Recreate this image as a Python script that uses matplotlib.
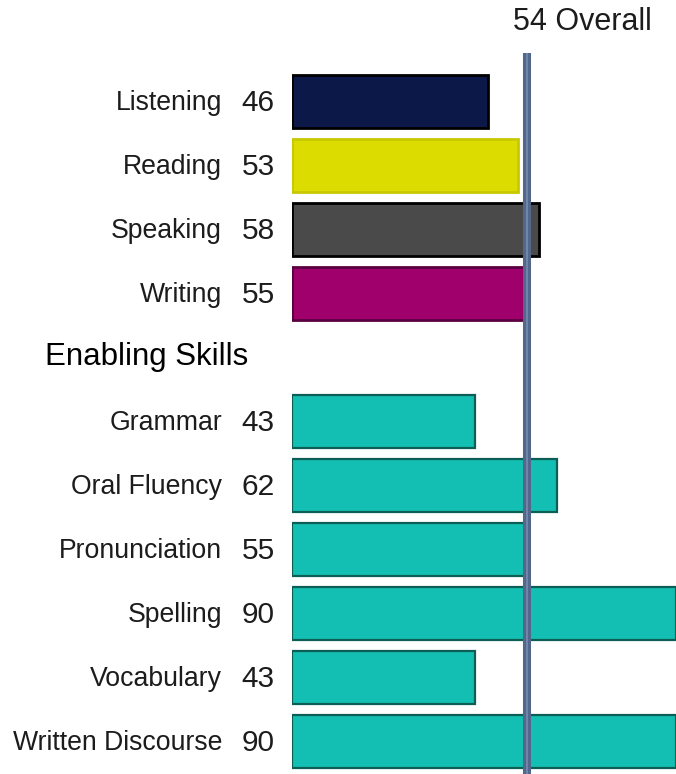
import matplotlib
matplotlib.use("Agg")
import matplotlib.pyplot as plt
from matplotlib.transforms import blended_transform_factory, ScaledTranslation

plt.rcParams['font.family'] = ['Liberation Sans', 'DejaVu Sans']

communicative = ["Listening", "Reading", "Speaking", "Writing"]
communicative_scores = [46, 53, 58, 55]
communicative_colors = ["#0b1848", "#dcdc00", "#4b4a4a", "#a0006c"]
communicative_edges = ["#000000", "#c8c800", "#000000", "#5a0040"]

enabling_title = "Enabling Skills"
enabling = ["Grammar", "Oral Fluency", "Pronunciation", "Spelling", "Vocabulary", "Written Discourse"]
enabling_scores = [43, 62, 55, 90, 43, 90]
enabling_color = "#13bfb3"
enabling_edge = "#0d5e55"

overall = 54
overall_label = "54 Overall"

W, H = 676, 774
fig = plt.figure(figsize=(W / 100, H / 100), dpi=100)
ax = fig.add_axes([292 / W, 0, 1 - 292 / W, 1])
ax.set_xlim(0, 90)
top_i = (0 - 101) / 64
bot_i = (774 - 101) / 64
ax.set_ylim(bot_i, top_i)
ax.axis("off")

bar_h = 53 / 64
txt = "#1c1c1c"
trans = blended_transform_factory(fig.transFigure, ax.transData)

pos_comm = list(range(len(communicative)))
pos_enab = [len(communicative) + 1 + k for k in range(len(enabling))]

ax.barh(pos_comm, communicative_scores, height=bar_h, color=communicative_colors,
        edgecolor=communicative_edges, linewidth=2.0, zorder=2)
ax.barh(pos_enab, enabling_scores, height=bar_h, color=enabling_color,
        edgecolor=enabling_edge, linewidth=1.6, zorder=2)

for p, name, s in zip(pos_comm + pos_enab, communicative + enabling,
                      communicative_scores + enabling_scores):
    ax.text(222 / W, p + 0.03, name, transform=trans, ha="right", va="center",
            fontsize=19.2, color=txt)
    ax.text(275 / W, p + 0.03, str(s), transform=trans, ha="right", va="center",
            fontsize=21.5, color=txt)

ax.text(45 / W, len(communicative), enabling_title, transform=trans, ha="left",
        va="center", fontsize=22.5, color="#000000")

shift = ax.transData + ScaledTranslation(5 / 100, 0, fig.dpi_scale_trans)
ax.vlines(overall, -0.75, bot_i, colors="#53678c", linewidth=5.8, zorder=3, transform=shift)
ax.vlines(overall, -0.75, bot_i, colors="#8fa3c4", linewidth=1.2, zorder=3, alpha=0.6,
          transform=shift)
ax.annotate(overall_label, xy=(overall, top_i), xycoords="data",
            xytext=(-7, -16), textcoords="offset points", ha="left", va="center",
            fontsize=22, color=txt, annotation_clip=False)

fig.savefig("out.png", dpi=100)
